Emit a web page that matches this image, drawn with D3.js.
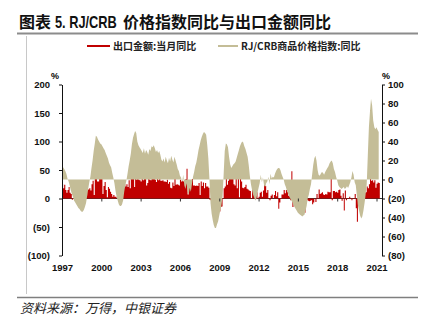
<!DOCTYPE html>
<html><head><meta charset="utf-8">
<script src="https://cdn.jsdelivr.net/npm/d3@7/dist/d3.min.js"></script>
<style>
html,body{margin:0;padding:0;background:#fff;}
svg{display:block;}
</style></head><body>
<svg id="c" width="426" height="327"></svg>
<script>
// ---------- data (monthly, starting Aug 1997) ----------
const startYear = 1997, startMonthIndex = 7;
const exportYoY = [
  25, 18, 24, 15, 10,                                   // 1997 Aug-Dec
  15, 20, 10, 8, -2, 1, 2, -3, -8, -10, -5, -4,         // 1998
  -11, -22, 0, -5, -4, 5, 16, 16, 18, 14, 25, 31,       // 1999
  6, 36, 35, 30, 30, 40, 38, 34, 8, 22, 29, 15,         // 2000
  2, 20, 17, 12, 8, 3, 6, 3, 3, 0, 8, 5,                // 2001
  19, -10, 14, 30, 25, 21, 25, 20, 32, 18, 37, 44,      // 2002
  45, 20, 43, 33, 37, 33, 32, 30, 40, 32, 36, 46,       // 2003
  23, 27, 37, 33, 32, 46, 34, 36, 33, 29, 47, 32,       // 2004
  42, 31, 31, 32, 30, 30, 29, 33, 26, 29, 19, 18,       // 2005
  28, 22, 39, 24, 25, 24, 23, 33, 30, 31, 30, 29,       // 2006
  34, 52, 7, 27, 29, 27, 34, 23, 23, 22, 23, 22,        // 2007
  27, 6, 30, 22, 28, 18, 27, 21, 21, 19, -2, -3,        // 2008
  -17, -26, -17, -23, -26, -21, -23, -23, -15, -14, -1, 18, // 2009
  21, 46, 24, 31, 49, 44, 38, 34, 25, 23, 35, 18,       // 2010
  38, 2, 36, 30, 19, 18, 20, 24, 17, 16, 14, 13,        // 2011
  -1, 18, 9, 5, 15, 11, 1, 3, 10, 12, 3, 14,            // 2012
  25, 22, 10, 15, 1, -3, 5, 7, 0, 6, 13, 4,             // 2013
  11, -18, -7, 1, 7, 7, 15, 9, 15, 12, 5, 10,           // 2014
  -3, 48, -15, -6, -3, 3, -8, -6, -4, -7, -7, -1,       // 2015
  -11, -25, 12, -2, -4, -5, -4, -3, -10, -7, 0, -6,     // 2016
  8, -1, 16, 8, 9, 11, 7, 6, 8, 7, 12, 11,              // 2017
  11, 44, -3, 13, 13, 11, 12, 10, 15, 16, 5, -4,        // 2018
  9, -21, 14, -3, 1, -1, 3, -1, -3, -1, -1, 8,          // 2019
  -17, -41, -7, 4, -3, 1, 7, 10, 10, 11, 21, 18,        // 2020
  25, 155, 31, 32, 28, 32, 19, 26, 28, 27               // 2021 Jan-Oct
];
const crbYoY = [
  12, 13, 11, 9, 6,                                     // 1997 Aug-Dec
  1, -2, -6, -11, -15, -18, -22, -24, -26, -28, -30, -31, // 1998
  -33, -34, -34, -32, -29, -25, -18, -10, -3, 3, 12, 20,  // 1999
  30, 38, 46, 45, 42, 40, 38, 37, 35, 33, 31, 28,       // 2000
  25, 22, 18, 15, 13, 7, 2, -4, -12, -18, -22, -26,     // 2001
  -28, -28, -26, -22, -13, -6, -1, 6, 14, 20, 27, 37,   // 2002
  44, 48, 51, 49, 40, 36, 34, 32, 30, 28, 33, 27,       // 2003
  31, 29, 26, 32, 30, 35, 34, 36, 33, 29, 31, 28,       // 2004
  30, 26, 21, 19, 22, 18, 24, 20, 17, 23, 19, 25,       // 2005
  21, 18, 24, 20, 16, 11, 9, 4, 2, -3, 5, -6,           // 2006
  -10, -4, -12, -16, -9, -13, -5, 3, 8, 14, 18, 24,     // 2007
  31, 36, 41, 45, 48, 50, 49, 47, 36, 22, 0, -25,       // 2008
  -36, -43, -48, -51, -51, -47, -44, -38, -32, -27, -18, 5, // 2009
  30, 38, 37, 34, 24, 16, 12, 14, 16, 17, 19, 23,       // 2010
  27, 31, 35, 38, 40, 39, 35, 32, 28, 24, 15, 4,        // 2011
  -5, -11, -16, -19, -22, -20, -14, -9, -4, 5, -3, 2,   // 2012
  -6, -8, -4, -2, 3, -5, 6, 1, 3, 2, 6, 9,              // 2013
  11, 12, 12, 10, 6, 3, 0, -5, -8, -12, -15, -18,       // 2014
  -20, -22, -24, -27, -29, -31, -33, -35, -36, -37, -38, -39, // 2015
  -38, -37, -33, -28, -20, -16, -10, -5, 5, 15, 22, 25, // 2016
  20, 10, 5, 4, 6, 8, 7, 5, 8, 10, 12, 14,              // 2017
  17, 19, 20, 17, 11, 8, 3, -1, -6, -8, -9, -10,        // 2018
  -9, -8, -10, -9, -7, -9, -6, -3, 2, 9, 5, -3,         // 2019
  -6, -17, -27, -33, -38, -41, -39, -33, -25, -16, -5, 25, // 2020
  55, 72, 85, 78, 62, 55, 53, 55, 52, 50                // 2021 Jan-Oct
];
const tickYears = [1997, 2000, 2003, 2006, 2009, 2012, 2015, 2018, 2021];
const leftTicks = [200, 150, 100, 50, 0, -50, -100];
const rightTicks = [100, 80, 60, 40, 20, 0, -20, -40, -60, -80];
const seriesNames = ["出口金额:当月同比", "RJ/CRB商品价格指数:同比"];
const seriesColors = ["#C00000", "#C4BD97"];
const titleCJK1 = "图表", titleLatin = "5. RJ/CRB", titleCJK2 = "价格指数同比与出口金额同比";
const sourceText = "资料来源：万得，中银证券";
const unitLabel = "%";

// ---------- build ----------
const dates = exportYoY.map((_, i) => new Date(startYear, startMonthIndex + i, 1));
const exportData = exportYoY.map((v, i) => ({ date: dates[i], v }));
const crbData = crbYoY.map((v, i) => ({ date: dates[i], v }));
const tickDates = tickYears.map(y => new Date(y, startMonthIndex, 15));

const svg = d3.select("#c");
const cjk = "'Noto Sans CJK SC','Noto Sans',sans-serif";
const latin = "'Liberation Sans',Arial,sans-serif";

const x = d3.scaleTime()
  .domain([new Date(startYear, startMonthIndex, 1), new Date(2022, 0, 1)])
  .range([62, 382]);
const yL = d3.scaleLinear().domain([-100, 200]).range([255.5, 84.5]);
const yR = d3.scaleLinear().domain([-80, 100]).range([255.5, 84.5]);

// frame lines
svg.append("line").attr("x1", 17).attr("x2", 418).attr("y1", 33.5).attr("y2", 33.5)
  .attr("stroke", "#8c8c8c").attr("stroke-width", 2);
svg.append("line").attr("x1", 26.5).attr("x2", 26.5).attr("y1", 36).attr("y2", 294)
  .attr("stroke", "#c8c8c8").attr("stroke-width", 1);
svg.append("line").attr("x1", 17).attr("x2", 418).attr("y1", 297.5).attr("y2", 297.5)
  .attr("stroke", "#7f7f7f").attr("stroke-width", 1.5);

// title (three pieces; the Latin part is horizontally condensed like the original)
svg.append("text").attr("x", 19).attr("y", 28).attr("font-family", cjk).attr("font-size", 16)
  .attr("font-weight", "bold").attr("fill", "#111").text(titleCJK1);
svg.append("text").attr("transform", "translate(55,28) scale(0.8,1)")
  .attr("font-family", latin).attr("font-size", 16)
  .attr("font-weight", "bold").attr("fill", "#111").text(titleLatin);
svg.append("text").attr("x", 123).attr("y", 28).attr("font-family", cjk).attr("font-size", 16)
  .attr("font-weight", "bold").attr("fill", "#111").text(titleCJK2);

// source
svg.append("text").attr("x", 20).attr("y", 313).attr("font-family", cjk)
  .attr("font-size", 13).attr("font-style", "italic").attr("fill", "#222").text(sourceText);

// legend
const leg = [{ x1: 87, x2: 110, tx: 113 }, { x1: 218, x2: 238, tx: 241 }];
leg.forEach((l, i) => {
  svg.append("line").attr("x1", l.x1).attr("x2", l.x2).attr("y1", 46).attr("y2", 46)
    .attr("stroke", seriesColors[i]).attr("stroke-width", 2);
  svg.append("text").attr("x", l.tx).attr("y", 49.5).attr("font-family", cjk)
    .attr("font-size", 10).attr("font-weight", "bold").attr("fill", "#222").text(seriesNames[i]);
});

// x baseline (left zero)
const y0 = yL(0);
svg.append("line").attr("x1", x.range()[0]).attr("x2", x.range()[1]).attr("y1", y0).attr("y2", y0)
  .attr("stroke", "#333").attr("stroke-width", 1);

// red export series (step area from left zero)
const redArea = d3.area().curve(d3.curveStepAfter)
  .x(d => x(d.date)).y0(y0).y1(d => yL(d.v));
const exportExt = exportData.concat([{ date: new Date(startYear, startMonthIndex + exportData.length, 1), v: exportData[exportData.length - 1].v }]);
svg.append("path").datum(exportExt).attr("d", redArea).attr("fill", seriesColors[0]);

// beige CRB series (area from right zero)
const r0 = yR(0);
const beigeArea = d3.area().x(d => x(d.date)).y0(r0).y1(d => yR(d.v));
svg.append("path").datum(crbData).attr("d", beigeArea).attr("fill", seriesColors[1]);

// x ticks on zero line
svg.selectAll(".xt").data(tickDates).enter().append("line")
  .attr("x1", d => x(d)).attr("x2", d => x(d)).attr("y1", y0).attr("y2", y0 + 3)
  .attr("stroke", "#333").attr("stroke-width", 1);
// x labels
svg.selectAll(".xl").data(tickDates).enter().append("text")
  .attr("x", d => x(d)).attr("y", 271).attr("text-anchor", "middle")
  .attr("font-family", latin).attr("font-size", 9.5).attr("font-weight", "bold").attr("fill", "#111")
  .text((d, i) => tickYears[i]);

const fmt = v => v < 0 ? `(${-v})` : `${v}`;
// left axis
const gl = svg.append("g").attr("transform", "translate(62,0)")
  .call(d3.axisLeft(yL).tickValues(leftTicks).tickSize(3).tickSizeOuter(0).tickPadding(9).tickFormat(fmt));
// right axis
const gr = svg.append("g").attr("transform", "translate(382,0)")
  .call(d3.axisRight(yR).tickValues(rightTicks).tickSize(3).tickSizeOuter(0).tickPadding(3).tickFormat(fmt));
[gl, gr].forEach(g => {
  g.select(".domain").attr("stroke", "#111");
  g.selectAll(".tick line").attr("stroke", "#111");
  g.selectAll("text").attr("font-family", latin).attr("font-size", 9.5)
    .attr("font-weight", "bold").attr("fill", "#111");
});

// unit labels
svg.append("text").attr("x", 55).attr("y", 79).attr("text-anchor", "middle")
  .attr("font-family", latin).attr("font-size", 9).attr("font-weight", "bold").text(unitLabel);
svg.append("text").attr("x", 386).attr("y", 79).attr("text-anchor", "middle")
  .attr("font-family", latin).attr("font-size", 9).attr("font-weight", "bold").text(unitLabel);
</script>
</body></html>
